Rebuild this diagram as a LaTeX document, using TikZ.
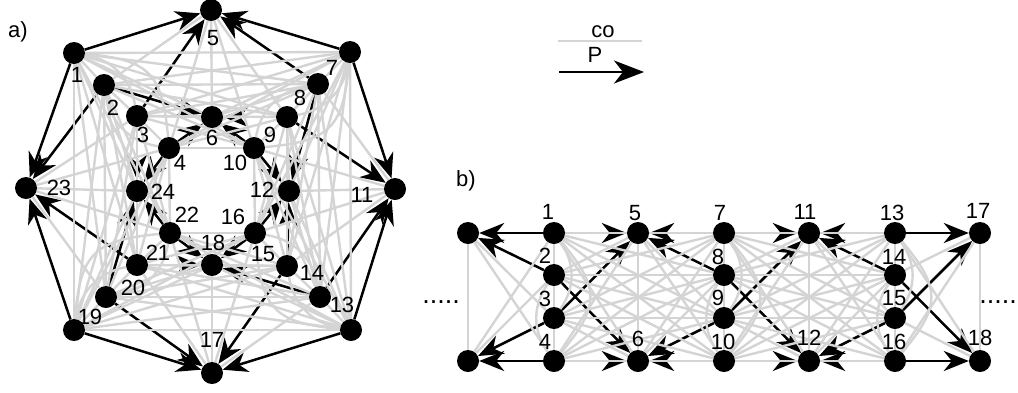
\documentclass[tikz,border=0pt]{standalone}
\usepackage{fontspec}
\setmainfont{Liberation Sans}
\usetikzlibrary{arrows.meta}
\definecolor{cogrey}{RGB}{212,212,212}
\pgfdeclarelayer{pl}
\pgfdeclarelayer{cl}
\pgfsetlayers{pl,cl,main}
\begin{document}
\begin{tikzpicture}[x=1pt,y=-1pt,
 vtx/.style={circle,fill=black,inner sep=0pt,minimum size=22pt},
 lab/.style={font=\fontsize{22}{25}\selectfont,inner sep=0pt},
 dots/.style={font=\fontsize{27}{27}\selectfont,inner sep=0pt},
 coe/.style={draw=cogrey,line width=2.4pt},
 pe/.style={draw=black,line width=2.5pt,-{Stealth[length=25pt,width=20pt,inset=8pt]}},
 bigpe/.style={draw=black,line width=2.5pt,-{Stealth[length=30pt,width=23pt,inset=9pt]}},
]
\useasboundingbox (0,0) rectangle (1018,392);

% ---------- part a) nodes
\foreach \n/\x/\y in {1/74/53, 2/104/85, 3/137/116, 4/169/148, 5/211/10, 6/212/117,
  7/350/52, 8/318/84, 9/287/117, 10/254/148, 11/395/189, 12/289/191,
  13/351/330, 14/320/297, 15/287/266, 16/255/233, 17/212/373, 18/212/265,
  19/74/330, 20/106/297, 21/137/265, 22/170/233, 23/26/188, 24/137/191}
  \node[vtx] (a\n) at (\x,\y) {};

% ---------- part b) nodes
\foreach \n/\x/\y in {L1/468/233, 1/554/233, 5/638/233, 7/724/233, 11/809/233, 13/895/233, 17/980/233,
  2/554/275, 8/724/275, 14/895/275,
  3/554/318, 9/724/318, 15/895/318,
  L2/468/361, 4/554/361, 6/638/361, 10/724/361, 12/809/361, 16/895/361, 18/980/361}
  \node[vtx] (b\n) at (\x,\y) {};

% ---------- P edges
\begin{pgfonlayer}{pl}
\foreach \o/\ma/\mb/\i/\Lo/\Li/\Ro/\Ri in {1/2/3/4/23/24/5/6, 7/8/9/10/5/6/11/12,
   13/14/15/16/11/12/17/18, 19/20/21/22/17/18/23/24}{
  \draw[pe] (a\o) -- (a\Lo); \draw[pe] (a\o) -- (a\Ro);
  \draw[pe] (a\i) -- (a\Li); \draw[pe] (a\i) -- (a\Ri);
  \draw[pe] (a\ma) -- (a\Lo); \draw[pe] (a\ma) -- (a\Ri);
  \draw[pe] (a\mb) -- (a\Ro); \draw[pe] (a\mb) -- (a\Li);
}
\foreach \o/\ma/\mb/\i/\Lo/\Li/\Ro/\Ri in {1/2/3/4/L1/L2/5/6, 7/8/9/10/5/6/11/12,
   13/14/15/16/11/12/17/18}{
  \draw[pe] (b\o) -- (b\Lo); \draw[pe] (b\o) -- (b\Ro);
  \draw[pe] (b\i) -- (b\Li); \draw[pe] (b\i) -- (b\Ri);
  \draw[pe] (b\ma) -- (b\Lo); \draw[pe] (b\ma) -- (b\Ri);
  \draw[pe] (b\mb) -- (b\Ro); \draw[pe] (b\mb) -- (b\Li);
}
\end{pgfonlayer}

% ---------- co edges
\begin{pgfonlayer}{cl}
\foreach \o/\ma/\mb/\i/\Lo/\Li/\Ro/\Ri in {1/2/3/4/23/24/5/6, 7/8/9/10/5/6/11/12,
   13/14/15/16/11/12/17/18, 19/20/21/22/17/18/23/24}{
  \draw[coe] (a\o) -- (a\ma) -- (a\mb) -- (a\i);
  \draw[coe] (a\o) to[bend left=35] (a\mb);
  \draw[coe] (a\o) to[bend left=40,looseness=1.4] (a\i);
  \draw[coe] (a\ma) to[bend right=35] (a\i);
  \draw[coe] (a\Lo) -- (a\mb); \draw[coe] (a\Lo) -- (a\i);
  \draw[coe] (a\Li) -- (a\o);  \draw[coe] (a\Li) -- (a\ma);
  \draw[coe] (a\Ro) -- (a\ma); \draw[coe] (a\Ro) -- (a\i);
  \draw[coe] (a\Ri) -- (a\o);  \draw[coe] (a\Ri) -- (a\mb);
  \draw[coe] (a\Ro) -- (a\Ri);
}
\foreach \p/\q in {1/7,7/13,13/19,19/1}{
  \foreach \s in {0,...,3}{
    \foreach \t in {0,...,3}{
      \pgfmathtruncatemacro\u{\p+\s}\pgfmathtruncatemacro\v{\q+\t}
      \draw[coe] (a\u) -- (a\v);
}}}
\foreach \o/\ma/\mb/\i/\Lo/\Li/\Ro/\Ri in {1/2/3/4/L1/L2/5/6, 7/8/9/10/5/6/11/12,
   13/14/15/16/11/12/17/18}{
  \draw[coe] (b\o) -- (b\ma) -- (b\mb) -- (b\i);
  \draw[coe] (b\o) to[bend left=35] (b\mb);
  \draw[coe] (b\o) to[bend left=40,looseness=1.4] (b\i);
  \draw[coe] (b\ma) to[bend right=35] (b\i);
  \draw[coe] (b\Lo) -- (b\mb); \draw[coe] (b\Lo) -- (b\i);
  \draw[coe] (b\Li) -- (b\o);  \draw[coe] (b\Li) -- (b\ma);
  \draw[coe] (b\Ro) -- (b\ma); \draw[coe] (b\Ro) -- (b\i);
  \draw[coe] (b\Ri) -- (b\o);  \draw[coe] (b\Ri) -- (b\mb);
  \draw[coe] (b\Ro) -- (b\Ri);
}
\draw[coe] (bL1) -- (bL2);
\foreach \p/\q in {1/7,7/13}{
  \foreach \s in {0,...,3}{
    \foreach \t in {0,...,3}{
      \pgfmathtruncatemacro\u{\p+\s}\pgfmathtruncatemacro\v{\q+\t}
      \draw[coe] (b\u) -- (b\v);
}}}
\end{pgfonlayer}

% ---------- labels a)
\node[lab] (ta) at (18,32) {a)};
\foreach \n/\x/\y in {1/77/75, 2/113/108, 3/143/135, 4/180/163, 5/213/38, 6/212/138,
  7/332/68, 8/300/98, 9/270/135, 10/235/163, 11/362/195, 12/262/190,
  13/342/305, 14/312/273, 15/263/254, 16/233/217, 17/212/340, 18/213/243,
  19/90/317, 20/133/288, 21/158/253, 22/187/215, 23/59/188, 24/163/192}
  \node[lab] (la\n) at (\x,\y) {\n};

% ---------- labels b)
\node[lab] (tb) at (466,181) {b)};
\foreach \n/\x/\y in {1/548/212, 5/635/213, 7/720/213, 11/805/212, 13/892/213, 17/978/211,
  2/545/256, 8/718/257, 14/894/257, 3/545/299, 9/718/298, 15/894/298,
  4/545/342, 6/638/339, 10/723/342, 12/809/338, 16/894/342, 18/980/338}
  \node[lab] (lb\n) at (\x,\y) {\n};
\node[dots,anchor=base] (dl) at (441,303) {.....};
\node[dots,anchor=base east] (dr) at (1017,303) {.....};

% ---------- legend
\node[lab,anchor=base] (tco) at (603,37) {co};
\coordinate (c1) at (558,41); \coordinate (c2) at (642,41);
\draw[coe] (c1) -- (c2);
\node[lab,anchor=base] (tP) at (595,62) {P};
\coordinate (p1) at (559,72); \coordinate (p2) at (644,72);
\draw[bigpe] (p1) -- (p2);
\end{tikzpicture}
\end{document}
